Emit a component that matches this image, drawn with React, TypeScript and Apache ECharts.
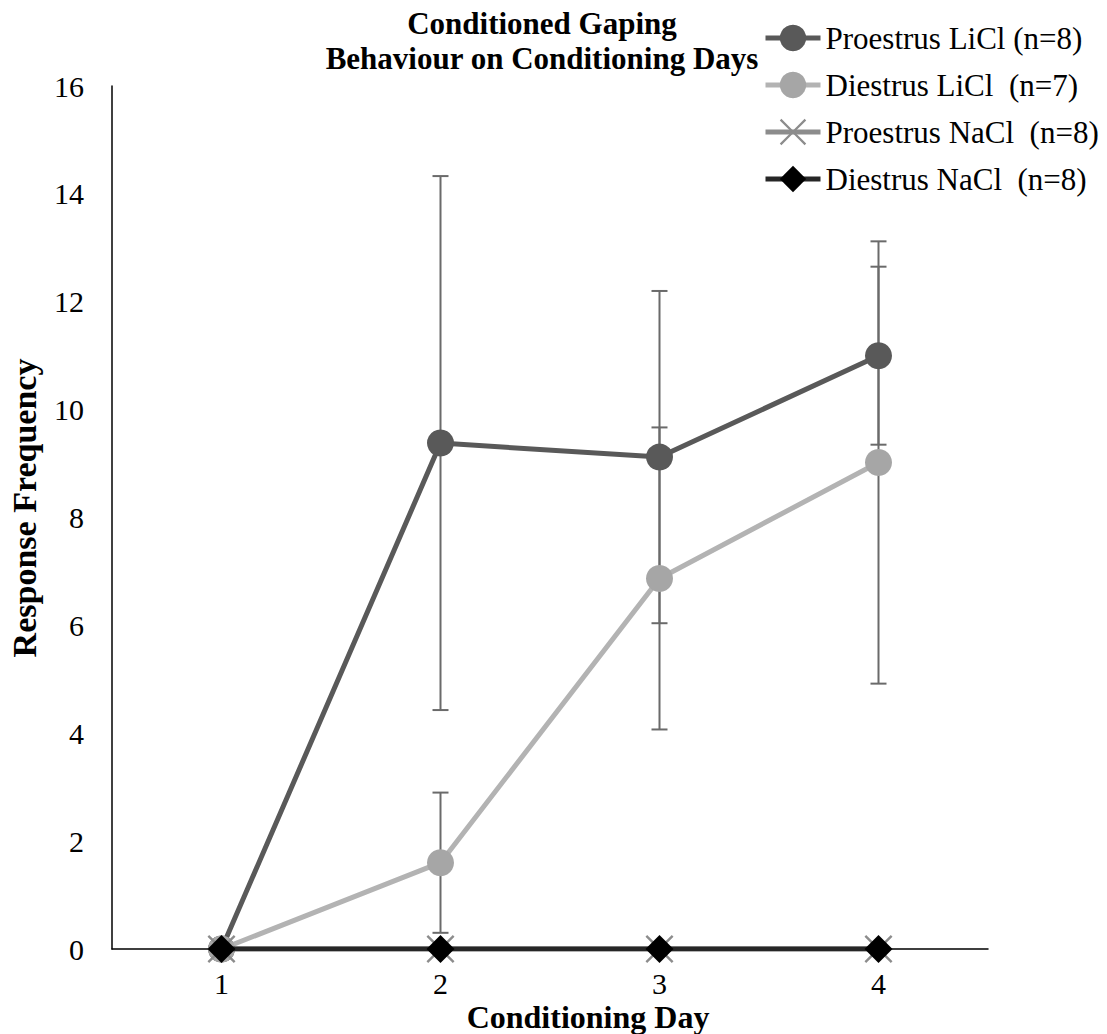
import React, { useEffect, useRef } from "react";
import * as echarts from "echarts";

const days = ["1", "2", "3", "4"];
const yTicks = [0, 2, 4, 6, 8, 10, 12, 14, 16];

const seriesNames = [
  "Proestrus LiCl (n=8)",
  "Diestrus LiCl  (n=7)",
  "Proestrus NaCl  (n=8)",
  "Diestrus NaCl  (n=8)",
];

const proestrusLiCl = [0, 9.38, 9.12, 11.0];
const proestrusLiClErr = [0, 4.95, 3.08, 1.65];
const diestrusLiCl = [0, 1.6, 6.87, 9.02];
const diestrusLiClErr = [0, 1.3, 2.8, 4.1];
const proestrusNaCl = [0, 0, 0, 0];
const diestrusNaCl = [0, 0, 0, 0];

const titleText = "Conditioned Gaping\nBehaviour on Conditioning Days";
const xName = "Conditioning Day";
const yName = "Response Frequency";

const FONT = "'Liberation Serif', 'Times New Roman', serif";

const xSymbol =
  "path://M0,0.6 L0.6,0 L5,4.4 L9.4,0 L10,0.6 L5.6,5 L10,9.4 L9.4,10 L5,5.6 L0.6,10 L0,9.4 L4.4,5 Z";

function errData(vals: number[], errs: number[]) {
  const out: number[][] = [];
  vals.forEach((v, i) => {
    if (errs[i] > 0) out.push([i, v - errs[i], v + errs[i]]);
  });
  return out;
}

const renderErr = (params: any, api: any) => {
  const x = api.value(0);
  const lo = api.coord([x, api.value(1)]);
  const hi = api.coord([x, api.value(2)]);
  const hw = 8;
  const style = { stroke: "#6a6a6a", lineWidth: 2 };
  return {
    type: "group",
    children: [
      { type: "line", shape: { x1: lo[0], y1: lo[1], x2: hi[0], y2: hi[1] }, style },
      { type: "line", shape: { x1: lo[0] - hw, y1: lo[1], x2: lo[0] + hw, y2: lo[1] }, style },
      { type: "line", shape: { x1: hi[0] - hw, y1: hi[1], x2: hi[0] + hw, y2: hi[1] }, style },
    ],
  };
};

export default function App() {
  const ref = useRef<HTMLDivElement>(null);
  useEffect(() => {
    if (!ref.current) return;
    const chart = echarts.init(ref.current, undefined, { renderer: "svg" });
    chart.setOption({
      animation: false,
      backgroundColor: "#ffffff",
      textStyle: { fontFamily: FONT },
      grid: { left: 112, right: 119, top: 86, bottom: 85, containLabel: false },
      legend: {
        data: seriesNames,
        orient: "vertical",
        left: 763,
        top: 20,
        padding: 0,
        itemWidth: 55,
        itemHeight: 33,
        itemGap: 11,
        lineStyle: { width: 5 },
        textStyle: { fontFamily: FONT, fontSize: 31, color: "#000", lineHeight: 36 },
      },
      graphic: [
        {
          type: "text",
          x: 542,
          y: 6,
          style: {
            text: titleText,
            font: `bold 31px ${FONT}`,
            fill: "#000",
            align: "center",
            verticalAlign: "top",
            lineHeight: 35,
          },
        },
        {
          type: "text",
          x: 588,
          y: 1017,
          style: {
            text: xName,
            font: `bold 32px ${FONT}`,
            fill: "#000",
            align: "center",
            verticalAlign: "middle",
          },
        },
        {
          type: "text",
          x: 24,
          y: 508,
          rotation: Math.PI / 2,
          style: {
            text: yName,
            font: `bold 34px ${FONT}`,
            fill: "#000",
            align: "center",
            verticalAlign: "middle",
          },
        },
      ],
      xAxis: {
        type: "category",
        data: days,
        boundaryGap: true,
        axisLine: { lineStyle: { color: "#000", width: 1.5 } },
        axisTick: { show: false },
        axisLabel: { fontFamily: FONT, fontSize: 30, lineHeight: 26, color: "#000", margin: 21 },
        splitLine: { show: false },
      },
      yAxis: {
        type: "value",
        min: yTicks[0],
        max: yTicks[yTicks.length - 1],
        interval: 2,
        axisLine: { show: true, lineStyle: { color: "#000", width: 1.5 } },
        axisTick: { show: false },
        axisLabel: { fontFamily: FONT, fontSize: 30, color: "#000", margin: 28 },
        splitLine: { show: false },
      },
      series: [
        {
          type: "custom",
          name: "err1",
          renderItem: renderErr,
          encode: { x: 0, y: [1, 2] },
          data: errData(proestrusLiCl, proestrusLiClErr),
          z: 1,
          silent: true,
        },
        {
          type: "custom",
          name: "err2",
          renderItem: renderErr,
          encode: { x: 0, y: [1, 2] },
          data: errData(diestrusLiCl, diestrusLiClErr),
          z: 1,
          silent: true,
        },
        {
          type: "line",
          name: seriesNames[0],
          data: proestrusLiCl,
          symbol: "circle",
          symbolSize: 27,
          lineStyle: { color: "#595959", width: 5 },
          itemStyle: { color: "#595959" },
          z: 3,
        },
        {
          type: "line",
          name: seriesNames[1],
          data: diestrusLiCl,
          symbol: "circle",
          symbolSize: 27,
          lineStyle: { color: "#b3b3b3", width: 5 },
          itemStyle: { color: "#a6a6a6" },
          z: 4,
        },
        {
          type: "line",
          name: seriesNames[2],
          data: proestrusNaCl,
          symbol: xSymbol,
          symbolSize: 28,
          lineStyle: { color: "#8c8c8c", width: 5 },
          itemStyle: { color: "#8c8c8c" },
          z: 5,
        },
        {
          type: "line",
          name: seriesNames[3],
          data: diestrusNaCl,
          symbol: "diamond",
          symbolSize: 28,
          lineStyle: { color: "#262626", width: 5 },
          itemStyle: { color: "#000000" },
          z: 6,
        },
      ],
    });
    return () => chart.dispose();
  }, []);
  return <div ref={ref} style={{ width: 1107, height: 1034, position: "absolute", left: 0, top: 0 }} />;
}
